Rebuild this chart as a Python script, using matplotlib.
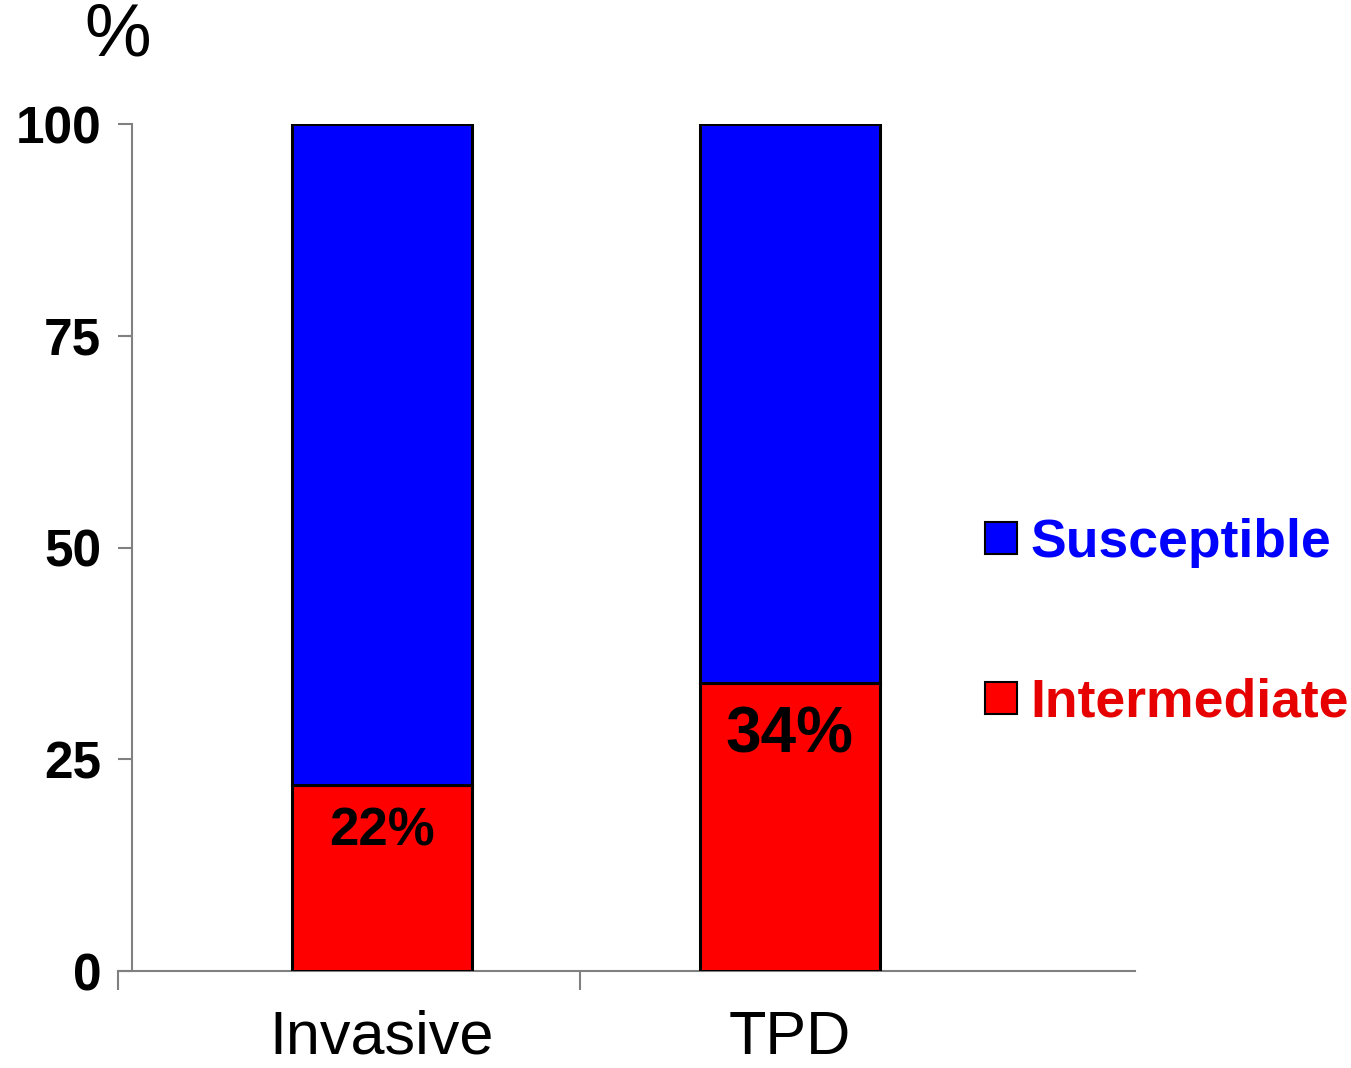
import numpy as np
import matplotlib
matplotlib.use("Agg")
import matplotlib.pyplot as plt
from matplotlib.patches import Patch

plt.rcParams['font.family'] = ['Liberation Sans', 'DejaVu Sans']

groups = ['Invasive', 'TPD']
intermediate = [22, 34]
susceptible = [78, 66]
pct_labels = ['22%', '34%']
yticks = [0, 25, 50, 75, 100]

BLUE = '#0000ff'
RED = '#ff0000'
AXIS_GREY = '#808080'

fig = plt.figure(figsize=(13.51, 10.68), dpi=100)
ax = fig.add_axes([0.0873, 0.0908, 0.7528, 0.793])

x = np.arange(len(groups))
width = 0.441
ax.bar(x, intermediate, width, color=RED, edgecolor='black', linewidth=2.2, zorder=3)
ax.bar(x, susceptible, width, bottom=intermediate, color=BLUE, edgecolor='black',
       linewidth=2.2, zorder=3)

# percentage text inside the red segments
sizes = [38, 46]
for xi, v, lab, fs in zip(x, intermediate, pct_labels, sizes):
    ax.text(xi, v - 2.6, lab, ha='center', va='top', fontsize=fs,
            fontweight='bold', color='black', zorder=4)

ax.set_xlim(-0.647, 1.846)
ax.set_ylim(0, 100)

for s in ['top', 'right']:
    ax.spines[s].set_visible(False)
ax.spines['left'].set_position(('data', -0.613))
ax.spines['left'].set_color(AXIS_GREY)
ax.spines['bottom'].set_color(AXIS_GREY)
ax.spines['left'].set_linewidth(1.5)
ax.spines['bottom'].set_linewidth(1.5)

ax.set_yticks(yticks)
ax.set_yticklabels([str(t) for t in yticks], fontsize=37, fontweight='bold')
ax.tick_params(axis='y', length=10, width=1.5, color=AXIS_GREY, pad=12)

ax.set_xticks(x)
ax.set_xticklabels(groups, fontsize=44)
ax.tick_params(axis='x', which='major', length=0, pad=28)
ax.set_xticks([-0.647, 0.485], minor=True)
ax.tick_params(axis='x', which='minor', length=14, width=1.5, color=AXIS_GREY)

fig.text(118 / 1351, 1 - 36 / 1068, '%', ha='center', va='center', fontsize=54)

handles = [Patch(facecolor=BLUE, edgecolor='black', linewidth=1.5),
           Patch(facecolor=RED, edgecolor='black', linewidth=1.5)]
ax.legend(handles, ['Susceptible', 'Intermediate'], loc='upper left',
          bbox_to_anchor=(985 / 1351, 1 - 518 / 1068), bbox_transform=fig.transFigure,
          frameon=False, prop={'size': 38.5, 'weight': 'bold'},
          labelcolor=[BLUE, '#e60000'], handlelength=0.6, handleheight=0.55,
          handletextpad=0.25, labelspacing=2.05, borderpad=0, borderaxespad=0)

fig.savefig('out.png', dpi=100)
